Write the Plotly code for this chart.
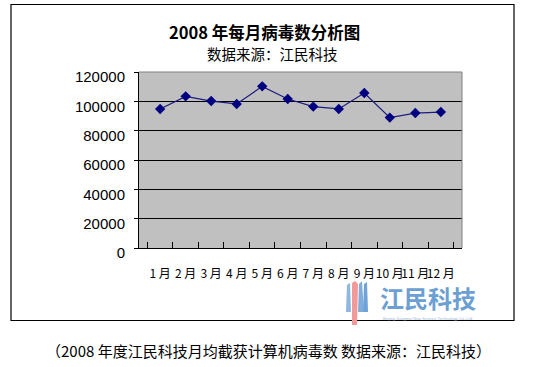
import plotly.graph_objects as go

months = ["1 月", "2 月", "3 月", "4 月", "5 月", "6 月",
          "7 月", "8 月", "9 月", "10 月", "11 月", "12 月"]
virus_counts = [94800, 103400, 100200, 98200, 110200, 101600,
                96400, 94800, 105700, 88900, 92000, 92700]
y_ticks = [0, 20000, 40000, 60000, 80000, 100000, 120000]

title_text = "2008 年每月病毒数分析图"
subtitle_text = "数据来源：江民科技"
caption_text = "（2008 年度江民科技月均截获计算机病毒数 数据来源：江民科技）"
logo_text = "江民科技"

W, H = 544, 367
def px(x):
    return x / W
def py(y):
    return 1 - y / H

CJK = "Noto Sans CJK SC, sans-serif"

fig = go.Figure()
fig.add_trace(go.Scatter(
    x=months, y=virus_counts, mode="lines+markers",
    line=dict(color="#1a1a80", width=1.2),
    marker=dict(symbol="diamond", size=8, color="#000080"),
    showlegend=False, hoverinfo="skip"))

fig.update_layout(
    width=W, height=H, autosize=False,
    margin=dict(l=0, r=0, t=0, b=0, pad=0),
    paper_bgcolor="white", plot_bgcolor="#C0C0C0",
    xaxis=dict(domain=[px(139), px(462)], type="category", automargin=False,
               showline=True, linecolor="black", linewidth=1,
               ticks="inside", tickson="boundaries", ticklen=6, tickcolor="black",
               showgrid=False, ticklabelstandoff=15, tickangle=0,
               tickfont=dict(family=CJK, size=12, color="black")),
    yaxis=dict(domain=[py(248), py(72)], range=[0, 120000], automargin=False,
               tickvals=y_ticks, ticktext=[str(v) for v in y_ticks],
               showline=True, linecolor="black", linewidth=1,
               ticks="outside", ticklen=4, tickcolor="black",
               showgrid=True, gridcolor="black", gridwidth=1,
               zeroline=False, ticklabelshift=5, ticklabelstandoff=6,
               tickfont=dict(family="Liberation Sans, Arial, sans-serif", size=15, color="black")),
)

shapes = []
shapes.append(dict(type="line", xref="paper", yref="paper",
                   x0=px(139), x1=px(462), y0=py(72), y1=py(72),
                   line=dict(color="#808080", width=1), layer="above"))
shapes.append(dict(type="line", xref="paper", yref="paper",
                   x0=px(462), x1=px(462), y0=py(72), y1=py(248),
                   line=dict(color="#808080", width=1), layer="above"))
shapes.append(dict(type="rect", xref="paper", yref="paper",
                   x0=px(11), x1=px(514), y0=py(320.5), y1=py(4.5),
                   line=dict(color="black", width=1.2), layer="above"))
def poly(pts, color):
    path = "M " + " L ".join(f"{px(a)},{py(b)}" for a, b in pts) + " Z"
    return dict(type="path", xref="paper", yref="paper", path=path,
                fillcolor=color, line=dict(width=0), layer="above")
shapes.append(poly([(346, 312), (347, 285), (350, 283), (351, 312)], "#8FB8E0"))
shapes.append(poly([(352, 325), (352, 283), (355, 281), (358, 284), (357, 325)], "#F29A9A"))
shapes.append(poly([(358, 312), (359, 284), (362, 281), (364, 312)], "#7FAEDC"))
shapes.append(poly([(363, 312), (364, 284), (367, 282), (368, 312)], "#6FA3D8"))
fig.update_layout(shapes=shapes)

annotations = [
    dict(text=title_text, x=px(264), y=py(32), xref="paper", yref="paper",
         showarrow=False, xanchor="center", yanchor="middle",
         font=dict(family=CJK, size=16.5, color="black", weight="bold")),
    dict(text=subtitle_text, x=px(272), y=py(54), xref="paper", yref="paper",
         showarrow=False, xanchor="center", yanchor="middle",
         font=dict(family=CJK, size=14.5, color="black")),
    dict(text=logo_text, x=px(428), y=py(297.5), xref="paper", yref="paper",
         showarrow=False, xanchor="center", yanchor="middle",
         font=dict(family=CJK, size=24, color="#6C9FD2", weight="bold")),
    dict(text="Beijing Jiangmin New Science Technology Co.,Ltd.", x=px(428), y=py(318),
         xref="paper", yref="paper", showarrow=False, xanchor="center", yanchor="middle",
         font=dict(family="Liberation Sans, sans-serif", size=4, color="#9DB8D8")),
    dict(text=caption_text, x=px(268), y=py(350), xref="paper", yref="paper",
         showarrow=False, xanchor="center", yanchor="middle",
         font=dict(family=CJK, size=15, color="black")),
]
fig.update_layout(annotations=annotations)

fig.write_html("out.html", config={"displayModeBar": False},
               post_script="document.body.style.margin='0';document.body.style.overflow='hidden';")
